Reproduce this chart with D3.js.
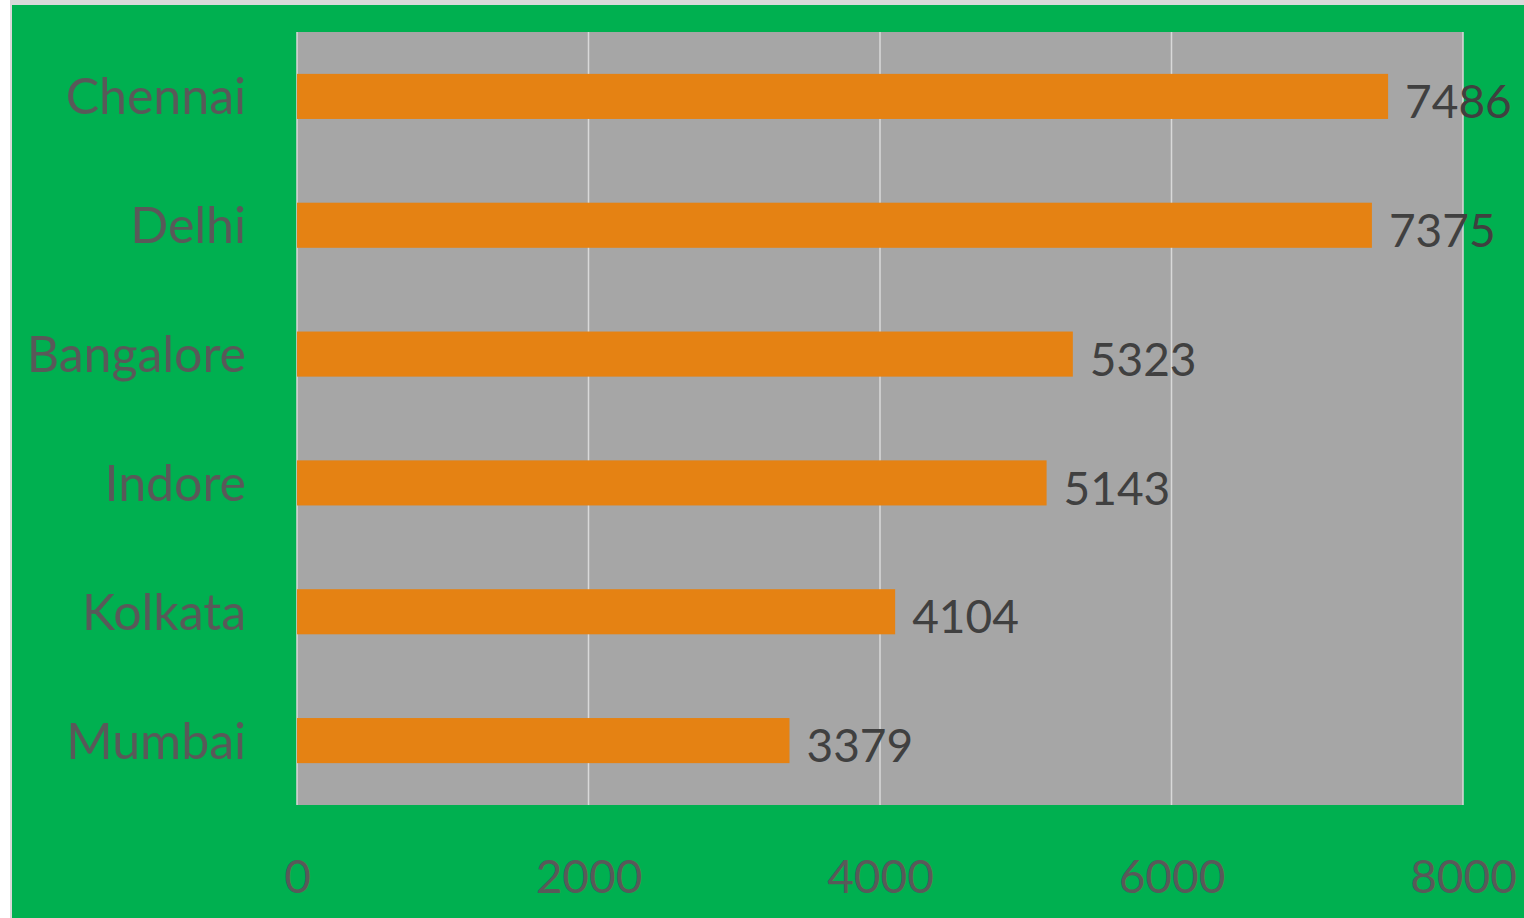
<!DOCTYPE html>
<html>
<head>
<meta charset="utf-8">
<script src="https://cdn.jsdelivr.net/npm/d3@7"></script>
<style>
  body { margin: 0; background: #ffffff; }
  svg { display: block; }
</style>
</head>
<body>
<div id="chart-container"></div>
<script>
// Chart data
const cities = ["Chennai", "Delhi", "Bangalore", "Indore", "Kolkata", "Mumbai"];
const values = [7486, 7375, 5323, 5143, 4104, 3379];
const xTicks = [0, 2000, 4000, 6000, 8000];

const width = 1524;
const height = 918;
const plot = { left: 297, right: 1463, top: 32, bottom: 805 };
const font = "Lato, 'Open Sans', sans-serif";

const svg = d3.select("#chart-container")
    .append("svg")
    .attr("width", width)
    .attr("height", height);

// Chart frame
svg.append("rect")
    .attr("x", 10)
    .attr("y", 0)
    .attr("width", width - 10)
    .attr("height", height)
    .attr("fill", "#d9d9d9");
svg.append("rect")
    .attr("x", 12)
    .attr("y", 5)
    .attr("width", width - 12)
    .attr("height", height - 5)
    .attr("fill", "#00b050");

// Scales
const xScale = d3.scaleLinear()
    .domain([0, 8000])
    .range([plot.left, plot.right]);

const yScale = d3.scaleBand()
    .domain(cities)
    .range([plot.top, plot.bottom])
    .paddingInner(0.65)
    .paddingOuter(0.325);

// Plot area
svg.append("rect")
    .attr("x", plot.left)
    .attr("y", plot.top)
    .attr("width", plot.right - plot.left)
    .attr("height", plot.bottom - plot.top)
    .attr("fill", "#a6a6a6");

// Gridlines
svg.append("g")
    .selectAll("line")
    .data(xTicks)
    .enter()
    .append("line")
    .attr("x1", (d) => xScale(d))
    .attr("x2", (d) => xScale(d))
    .attr("y1", plot.top)
    .attr("y2", plot.bottom)
    .attr("stroke", "#d9d9d9")
    .attr("stroke-width", 1.5);

// X-axis labels
svg.append("g")
    .attr("id", "x-axis")
    .attr("transform", `translate(0, ${plot.bottom + 88})`)
    .call(d3.axisBottom(xScale).tickValues(xTicks).tickSize(0).tickPadding(0).tickFormat(d3.format("d")))
    .call((g) => g.select(".domain").remove())
    .selectAll("text")
    .attr("dy", 0)
    .style("font-family", font)
    .style("font-size", "46px")
    .style("fill", "#595959");

// Bars
svg.selectAll(".bar")
    .data(values)
    .enter()
    .append("rect")
    .attr("class", "bar")
    .attr("x", xScale(0))
    .attr("y", (d, i) => yScale(cities[i]))
    .attr("width", (d) => xScale(d) - xScale(0))
    .attr("height", yScale.bandwidth())
    .attr("fill", "#e58213");

// Y-axis labels
svg.append("g")
    .attr("id", "y-axis")
    .attr("transform", `translate(${plot.left - 51}, 0)`)
    .call(d3.axisLeft(yScale).tickSize(0).tickPadding(0))
    .call((g) => g.select(".domain").remove())
    .selectAll("text")
    .attr("dy", "0.36em")
    .style("font-family", font)
    .style("font-size", "50px")
    .style("fill", "#595959");

// Value labels
svg.selectAll(".value")
    .data(values)
    .enter()
    .append("text")
    .attr("class", "value")
    .attr("x", (d) => xScale(d) + 17)
    .attr("y", (d, i) => yScale(cities[i]) + yScale.bandwidth() / 2)
    .attr("dy", "0.47em")
    .style("font-family", font)
    .style("font-size", "46px")
    .style("fill", "#404040")
    .text((d) => d);
</script>
</body>
</html>
